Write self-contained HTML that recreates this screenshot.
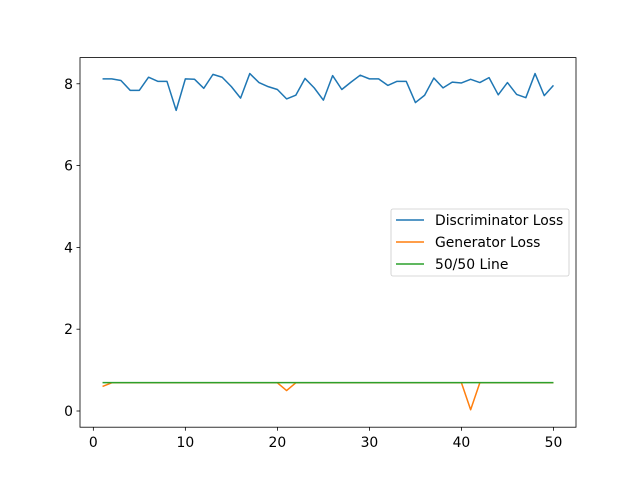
<!DOCTYPE html>
<html><head><meta charset="utf-8"><style>body{margin:0;background:#fff}svg{display:block;font-family:"DejaVu Sans","Liberation Sans",sans-serif}</style></head>
<body>
<svg id="chart" width="640" height="480" xmlns="http://www.w3.org/2000/svg"></svg>
<script>
const epochs = Array.from({length:50},(_,i)=>i+1);
const discLoss = [8.12,8.12,8.08,7.84,7.84,8.16,8.06,8.06,7.35,8.12,8.11,7.89,8.23,8.16,7.93,7.65,8.25,8.03,7.93,7.86,7.63,7.72,8.13,7.9,7.6,8.2,7.86,8.04,8.21,8.12,8.12,7.96,8.06,8.06,7.54,7.72,8.14,7.9,8.04,8.02,8.11,8.03,8.15,7.73,8.03,7.74,7.66,8.25,7.71,7.96];
const genLoss = [0.6,0.69,0.69,0.69,0.69,0.69,0.69,0.69,0.69,0.69,0.69,0.69,0.69,0.69,0.69,0.69,0.69,0.69,0.69,0.69,0.5,0.69,0.69,0.69,0.69,0.69,0.69,0.69,0.69,0.69,0.69,0.69,0.69,0.69,0.69,0.69,0.69,0.69,0.69,0.69,0.03,0.69,0.69,0.69,0.69,0.69,0.69,0.69,0.69,0.69];
const fiftyLine = epochs.map(()=>0.693);
const xTicks = [0,10,20,30,40,50];
const yTicks = [0,2,4,6,8];
const seriesNames = ["Discriminator Loss","Generator Loss","50/50 Line"];
const colors = ["#1f77b4","#ff7f0e","#2ca02c"];

const L=80,R=576,T=57.6,B=427.2;
const xmin=-1.45,xmax=52.45,ymin=-0.396,ymax=8.64;
const X=v=>L+(v-xmin)/(xmax-xmin)*(R-L);
const Y=v=>B-(v-ymin)/(ymax-ymin)*(B-T);
const svg=document.getElementById('chart');
const NS="http://www.w3.org/2000/svg";
function mk(tag,attrs,parent){const e=document.createElementNS(NS,tag);for(const k in attrs)e.setAttribute(k,attrs[k]);(parent||svg).appendChild(e);return e;}

[discLoss,genLoss,fiftyLine].forEach((s,i)=>{
  const p=mk('polyline',{points:s.map((v,j)=>X(epochs[j])+','+Y(v)).join(' '),fill:'none',stroke:colors[i],'stroke-width':1.5,'stroke-linejoin':'round'});
  
  
});
const frame=mk('rect',{x:L,y:T,width:R-L,height:B-T,fill:'none',stroke:'#000','stroke-width':0.8});


xTicks.forEach(t=>{
  mk('line',{x1:X(t),x2:X(t),y1:B,y2:B+3.5,stroke:'#000','stroke-width':0.8});
  const tx=mk('text',{x:X(t),y:B+20,'font-size':13.9,'text-anchor':'middle'});tx.textContent=t;
  
  
});
yTicks.forEach(t=>{
  mk('line',{x1:L-3.5,x2:L,y1:Y(t),y2:Y(t),stroke:'#000','stroke-width':0.8});
  const tx=mk('text',{x:L-7,y:Y(t)+5,'font-size':13.9,'text-anchor':'end'});tx.textContent=t;
  
  
});
const lg=mk('g',{});


mk('rect',{x:391,y:209,width:178,height:67,rx:2,fill:'#fff','fill-opacity':0.8,stroke:'#ccc','stroke-width':0.8},lg);
seriesNames.forEach((n,i)=>{
  const y=220+i*22;
  mk('line',{x1:396,x2:424,y1:y,y2:y,stroke:colors[i],'stroke-width':1.5},lg);
  const t=mk('text',{x:435,y:y+5,'font-size':13.9},lg);t.textContent=n;
  
  
});
</script>
</body></html>
